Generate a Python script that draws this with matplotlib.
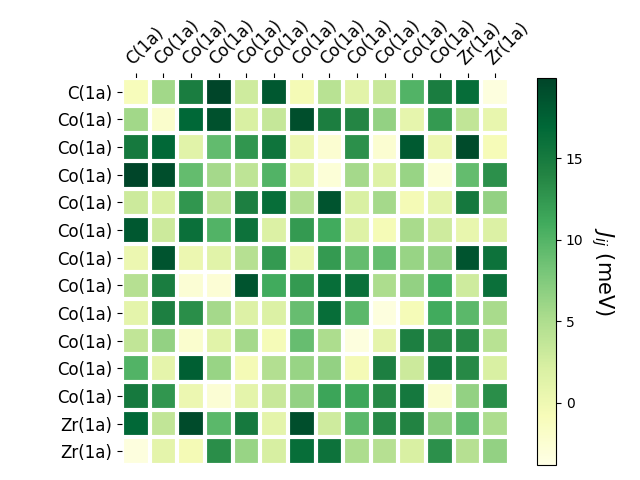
import numpy as np
import matplotlib
matplotlib.use("Agg")
import matplotlib.pyplot as plt

labels = ["C(1a)", "Co(1a)", "Co(1a)", "Co(1a)", "Co(1a)", "Co(1a)", "Co(1a)",
          "Co(1a)", "Co(1a)", "Co(1a)", "Co(1a)", "Co(1a)", "Zr(1a)", "Zr(1a)"]

# exchange couplings J_ij in meV
row00 = [-1.0, 5.7, 14.7, 19.9, 2.8, 18.2, -0.5, 4.3, 1.2, 3.3, 10.0, 14.7, 16.3, -3.3]
row01 = [5.7, -2.1, 16.9, 18.8, 2.1, 3.5, 19.0, 14.5, 13.8, 6.5, 0.8, 12.3, 3.7, 0.6]
row02 = [15.0, 16.8, 1.3, 9.2, 12.5, 15.6, 0.2, -2.5, 13.0, -2.5, 18.0, 0.2, 19.3, -0.8]
row03 = [19.9, 19.0, 9.1, 5.5, 3.9, 10.0, 1.3, -2.8, 5.5, 1.6, 6.2, -2.8, 9.1, 13.0]
row04 = [3.0, 2.1, 12.5, 4.0, 14.4, 16.2, 4.7, 18.6, 2.1, 5.5, -0.5, 1.1, 15.1, 6.5]
row05 = [18.2, 3.0, 16.0, 10.0, 15.8, 1.8, 12.3, 11.0, 1.6, -0.6, 5.3, 2.8, 0.6, 1.8]
row06 = [0.2, 18.6, 0.2, 1.3, 4.5, 12.3, 0.4, 12.3, 9.1, 9.0, 6.2, 6.5, 18.6, 15.8]
row07 = [4.5, 14.7, -2.6, -2.7, 18.6, 11.0, 12.3, 16.2, 16.0, 5.0, 6.5, 11.0, 2.8, 16.0]
row08 = [1.1, 14.4, 13.2, 5.5, 1.7, 1.8, 8.9, 16.2, 9.6, -3.3, -0.7, 11.0, 9.6, 5.3]
row09 = [3.7, 6.5, -2.3, 1.3, 5.5, -0.7, 8.9, 5.0, -3.3, 1.0, 14.4, 13.6, 13.6, 4.3]
row10 = [10.0, 1.0, 17.6, 6.2, -0.5, 4.7, 6.2, 6.5, -0.5, 14.4, 3.0, 15.0, 13.6, 2.1]
row11 = [15.0, 12.5, 0.2, -2.6, 1.1, 3.3, 6.5, 11.4, 11.2, 13.6, 15.1, -2.3, 6.5, 13.2]
row12 = [16.8, 3.7, 19.3, 9.6, 15.0, 1.1, 19.0, 2.8, 9.6, 13.6, 14.0, 6.5, 9.3, 5.0]
row13 = [-3.3, 1.1, -0.5, 13.2, 6.2, 2.3, 16.2, 15.8, 5.0, 4.5, 2.1, 13.0, 4.5, 6.5]

J = np.array([row00, row01, row02, row03, row04, row05, row06,
              row07, row08, row09, row10, row11, row12, row13])

fig = plt.figure(figsize=(6.4, 4.8), dpi=100)
ax = fig.add_axes([122 / 640, 15 / 480, 387 / 640, 387 / 480])
cax = fig.add_axes([537 / 640, 15 / 480, 19 / 640, 387 / 480])

im = ax.imshow(J, cmap="YlGn", vmin=-3.8, vmax=19.9)
cbar = fig.colorbar(im, cax=cax)
cbar.ax.set_ylabel("$J_{ij}$ (meV)", rotation=-90, va="bottom", fontsize=15)

ax.set_xticks(np.arange(len(labels)), labels=labels, fontsize=12)
ax.set_yticks(np.arange(len(labels)), labels=labels, fontsize=12)
ax.tick_params(top=True, bottom=False, labeltop=True, labelbottom=False)
plt.setp(ax.get_xticklabels(), rotation=45, ha="left", rotation_mode="anchor")

for s in ax.spines.values():
    s.set_visible(False)

# white separators between cells
ax.set_xticks(np.arange(J.shape[1] + 1) - .5, minor=True)
ax.set_yticks(np.arange(J.shape[0] + 1) - .5, minor=True)
ax.grid(which="minor", color="w", linestyle="-", linewidth=3)
ax.tick_params(which="minor", bottom=False, left=False)

fig.savefig("out.png")
